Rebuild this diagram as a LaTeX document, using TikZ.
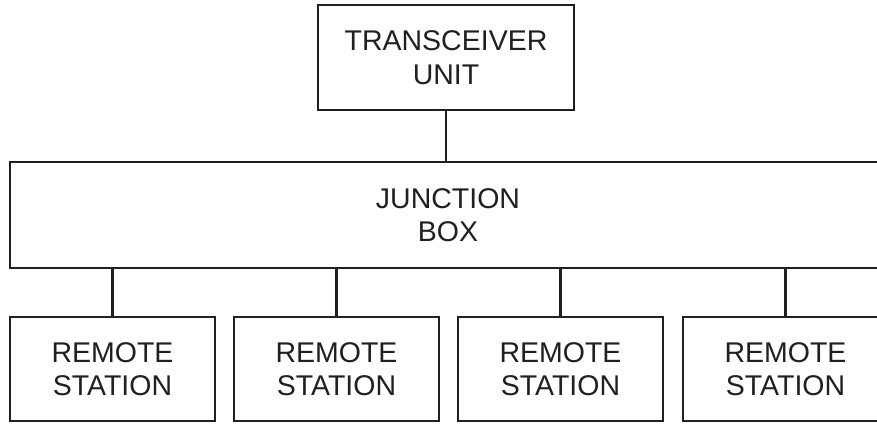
\documentclass[tikz,border=0pt]{standalone}
\usepackage{fontspec}
\setmainfont{Liberation Sans}
\definecolor{ink}{HTML}{231F20}
\begin{document}
\begin{tikzpicture}[x=1pt,y=1pt,
  box/.style={draw=ink,line width=2.3pt,rectangle,inner sep=0pt,align=center,
    font=\fontsize{28.5}{33.5}\selectfont,text=ink},
  wire/.style={draw=ink,line width=2.3pt}]
\clip (0,0) rectangle (877,423);
\fill[white] (0,0) rectangle (877,423);
\node[box,minimum width=256,minimum height=105] (tu) at (446,365.5) {TRANSCEIVER\\UNIT};
\node[box,minimum width=876,minimum height=106] (jb) at (448,208) {JUNCTION\\BOX};
\node[box,minimum width=205,minimum height=104] (r1) at (112.5,54) {REMOTE\\STATION};
\node[box,minimum width=205,minimum height=104] (r2) at (336.5,54) {REMOTE\\STATION};
\node[box,minimum width=205,minimum height=104] (r3) at (560.5,54) {REMOTE\\STATION};
\node[box,minimum width=205,minimum height=104] (r4) at (785.5,54) {REMOTE\\STATION};
\draw[wire] (tu.south) -- (tu.south |- jb.north);
\foreach \r in {r1,r2,r3,r4}
  \draw[wire] (\r.north) -- (\r.north |- jb.south);
\end{tikzpicture}
\end{document}
